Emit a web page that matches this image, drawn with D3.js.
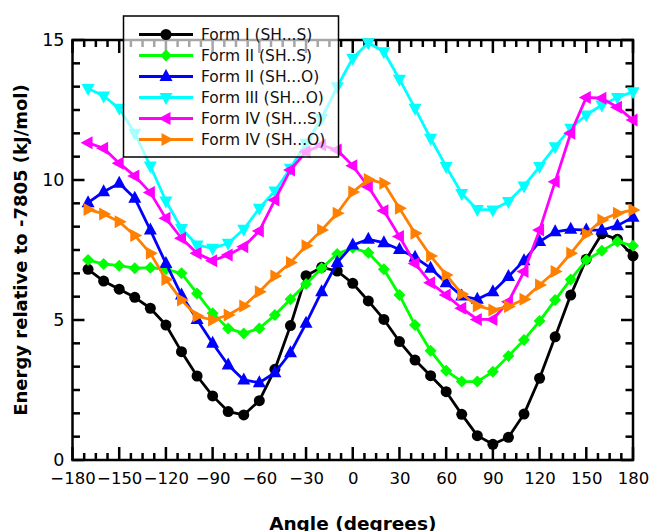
<!DOCTYPE html>
<html>
<head>
<meta charset="utf-8">
<script src="https://cdn.jsdelivr.net/npm/d3@7/dist/d3.min.js"></script>
<style>
  body { margin: 0; background: #fff; }
  text { font-family: "DejaVu Sans", sans-serif; }
</style>
</head>
<body>
<div id="chart"></div>
<script>
// Data (angle in degrees, energy in kJ/mol)
let angles = d3.range(-170, 181, 10)

let formI_SHS = [6.81, 6.39, 6.10, 5.81, 5.42, 4.82, 3.87, 3.00, 2.29, 1.73, 1.61, 2.12, 3.24, 4.80, 6.58, 6.88, 6.75, 6.31,
    5.68, 5.02, 4.23, 3.57, 3.01, 2.44, 1.63, 0.87, 0.56, 0.81, 1.64, 2.92, 4.40, 5.89, 7.17, 8.08, 7.88, 7.29]
let formII_SHS = [7.14, 7.00, 6.94, 6.85, 6.87, 6.81, 6.67, 5.95, 5.24, 4.70, 4.52, 4.70, 5.18, 5.74, 6.29, 6.85, 7.36, 7.58,
    7.40, 6.81, 5.89, 4.82, 3.90, 3.19, 2.80, 2.80, 3.15, 3.71, 4.29, 4.96, 5.71, 6.45, 7.14, 7.47, 7.80, 7.65]
let formII_SHO = [9.19, 9.58, 9.88, 9.35, 8.21, 7.02, 5.89, 5.02, 4.17, 3.39, 2.86, 2.76, 3.12, 3.83, 4.88, 6.01, 7.05, 7.68,
    7.88, 7.76, 7.52, 7.24, 6.85, 6.33, 5.86, 5.74, 6.01, 6.55, 7.12, 7.80, 8.15, 8.24, 8.21, 8.21, 8.37, 8.67]
let formIII_SHO = [13.27, 13.00, 12.56, 11.67, 10.50, 9.25, 8.27, 7.68, 7.56, 7.74, 8.24, 8.99, 9.61, 10.42, 11.31, 12.20, 13.33, 14.35,
    14.90, 14.58, 13.60, 12.56, 11.49, 10.48, 9.52, 8.95, 8.93, 9.23, 9.79, 10.48, 11.19, 11.85, 12.32, 12.68, 12.95, 13.15]
let formIV_SHS = [11.33, 11.13, 10.60, 10.14, 9.55, 8.63, 7.92, 7.38, 7.12, 7.32, 7.62, 8.18, 9.29, 10.36, 11.01, 11.25, 11.07, 10.51,
    9.76, 8.90, 7.98, 7.02, 6.33, 5.89, 5.42, 5.02, 5.02, 5.65, 6.73, 8.21, 9.94, 11.67, 12.95, 12.92, 12.60, 12.14]
let formIV_SHO = [8.95, 8.79, 8.51, 8.02, 7.38, 6.45, 5.71, 5.14, 5.00, 5.18, 5.50, 6.01, 6.57, 7.05, 7.65, 8.21, 8.81, 9.57,
    10.02, 9.88, 8.99, 8.10, 7.29, 6.61, 5.93, 5.50, 5.36, 5.48, 5.74, 6.25, 6.73, 7.38, 8.07, 8.57, 8.81, 8.93]

let seriesNames = ['Form I (SH...S)', 'Form II (SH..S)', 'Form II (SH...O)', 'Form III (SH...O)', 'Form IV (SH...S)', 'Form IV (SH...O)']
let seriesValues = [formI_SHS, formII_SHS, formII_SHO, formIII_SHO, formIV_SHS, formIV_SHO]
let seriesColors = ['#000000', '#00ff00', '#0000ff', '#00ffff', '#ff00ff', '#ff8000']
let seriesSymbols = ['circle', 'diamond', 'up', 'down', 'left', 'right']

let xTicks = d3.range(-180, 181, 30)
let yTicks = [0, 5, 10, 15]

//Dimensions
let margin = {top: 40, right: 18, bottom: 71, left: 72.5},
    width = 651 - margin.left - margin.right,
    height = 531 - margin.top - margin.bottom

//Svg
const svg = d3.select('#chart')
    .append('svg')
    .attr('width', 651)
    .attr('height', 531)

const g = svg.append('g')
    .attr('transform', 'translate(' + margin.left + ',' + margin.top + ')')

// Scale
let x = d3.scaleLinear().domain([-180, 180]).range([0, width])
let y = d3.scaleLinear().domain([0, 15]).range([height, 0])

// frame
g.append('rect')
    .attr('width', width)
    .attr('height', height)
    .attr('fill', 'none')
    .attr('stroke', '#000')
    .attr('stroke-width', 2.5)

// ticks on all four sides, pointing inward
let xMinor = d3.range(-180, 180.1, 7.5)
let yMinor = d3.range(0, 15.01, 5 / 6)

let tickG = g.append('g')
xMinor.forEach(v => {
    let len = v % 30 === 0 ? 13 : 7
    tickG.append('line').attr('x1', x(v)).attr('x2', x(v)).attr('y1', height).attr('y2', height - len)
        .attr('stroke', '#000').attr('stroke-width', 2.5)
    tickG.append('line').attr('x1', x(v)).attr('x2', x(v)).attr('y1', 0).attr('y2', len)
        .attr('stroke', '#000').attr('stroke-width', 2.5)
})
yMinor.forEach(v => {
    let major = Math.abs(v / 5 - Math.round(v / 5)) < 1e-6
    let len = major ? 12 : 7.5
    tickG.append('line').attr('x1', 0).attr('x2', len).attr('y1', y(v)).attr('y2', y(v))
        .attr('stroke', '#000').attr('stroke-width', 2.5)
    tickG.append('line').attr('x1', width).attr('x2', width - len).attr('y1', y(v)).attr('y2', y(v))
        .attr('stroke', '#000').attr('stroke-width', 2.5)
})

// X axis labels
let xAxis = g.append('g')
    .attr('transform', 'translate(0,' + height + ')')
    .call(d3.axisBottom(x).tickValues(xTicks).tickSize(0).tickPadding(12)
        .tickFormat(d => (d < 0 ? '\u2212' + Math.abs(d) : '' + d)))
xAxis.select('.domain').remove()
xAxis.selectAll('text').attr('font-size', 16.5).attr('fill', '#000')
    .style('font-family', '"DejaVu Sans", sans-serif')

// Y axis labels
let yAxis = g.append('g')
    .call(d3.axisLeft(y).tickValues(yTicks).tickSize(0).tickPadding(8))
yAxis.select('.domain').remove()
yAxis.selectAll('text').attr('font-size', 17.5).attr('fill', '#000')
    .style('font-family', '"DejaVu Sans", sans-serif')

// Axis titles
svg.append('text')
    .attr('x', margin.left + width / 2)
    .attr('y', 530)
    .attr('text-anchor', 'middle')
    .attr('font-size', 18.5)
    .attr('font-weight', 'bold')
    .text('Angle (degrees)')

svg.append('text')
    .attr('transform', 'translate(27,' + (margin.top + height / 2) + ') rotate(-90)')
    .attr('text-anchor', 'middle')
    .attr('font-size', 18)
    .attr('font-weight', 'bold')
    .text('Energy relative to -7805 (kJ/mol)')

// markers
function symbolPath(type) {
    if (type === 'circle') return d3.symbol(d3.symbolCircle, 95)()
    if (type === 'diamond') {
        let r = 6
        return 'M0,' + (-r) + 'L' + r + ',0L0,' + r + 'L' + (-r) + ',0Z'
    }
    let a = 7.5, b = 6.5
    if (type === 'up') return 'M0,' + (-a) + 'L' + b + ',' + (a * 0.6) + 'L' + (-b) + ',' + (a * 0.6) + 'Z'
    if (type === 'down') return 'M0,' + a + 'L' + b + ',' + (-a * 0.6) + 'L' + (-b) + ',' + (-a * 0.6) + 'Z'
    if (type === 'left') return 'M' + (-a) + ',0L' + (a * 0.6) + ',' + b + 'L' + (a * 0.6) + ',' + (-b) + 'Z'
    if (type === 'right') return 'M' + a + ',0L' + (-a * 0.6) + ',' + b + 'L' + (-a * 0.6) + ',' + (-b) + 'Z'
}

let line = d3.line()
    .x(d => x(d[0]))
    .y(d => y(d[1]))

let plot = g.append('g')
seriesValues.forEach((vals, i) => {
    let pts = angles.map((a, j) => [a, vals[j]])
    let sg = plot.append('g')
    sg.append('path')
        .datum(pts)
        .attr('d', line)
        .attr('fill', 'none')
        .attr('stroke', seriesColors[i])
        .attr('stroke-width', 2.8)
        .attr('stroke-linejoin', 'round')
    sg.selectAll('.pt')
        .data(pts)
        .enter()
        .append('path')
        .attr('class', 'pt')
        .attr('d', symbolPath(seriesSymbols[i]))
        .attr('transform', d => 'translate(' + x(d[0]) + ',' + y(d[1]) + ')')
        .attr('fill', seriesColors[i])
})

// Legend
let legend = svg.append('g')
legend.append('rect')
    .attr('x', 123.5)
    .attr('y', 16)
    .attr('width', 215)
    .attr('height', 141)
    .attr('fill', '#fff')
    .attr('fill-opacity', 0.65)
    .attr('stroke', '#000')
    .attr('stroke-width', 1.5)

seriesNames.forEach((name, i) => {
    let ly = 34.5 + i * 21
    legend.append('line')
        .attr('x1', 139).attr('x2', 193)
        .attr('y1', ly).attr('y2', ly)
        .attr('stroke', seriesColors[i])
        .attr('stroke-width', 3)
    legend.append('path')
        .attr('d', symbolPath(seriesSymbols[i]))
        .attr('transform', 'translate(166,' + ly + ')')
        .attr('fill', seriesColors[i])
    legend.append('text')
        .attr('x', 201)
        .attr('y', ly)
        .attr('dy', '0.35em')
        .attr('font-size', 15.5)
        .attr('fill', '#111')
        .text(name)
})
</script>
</body>
</html>
